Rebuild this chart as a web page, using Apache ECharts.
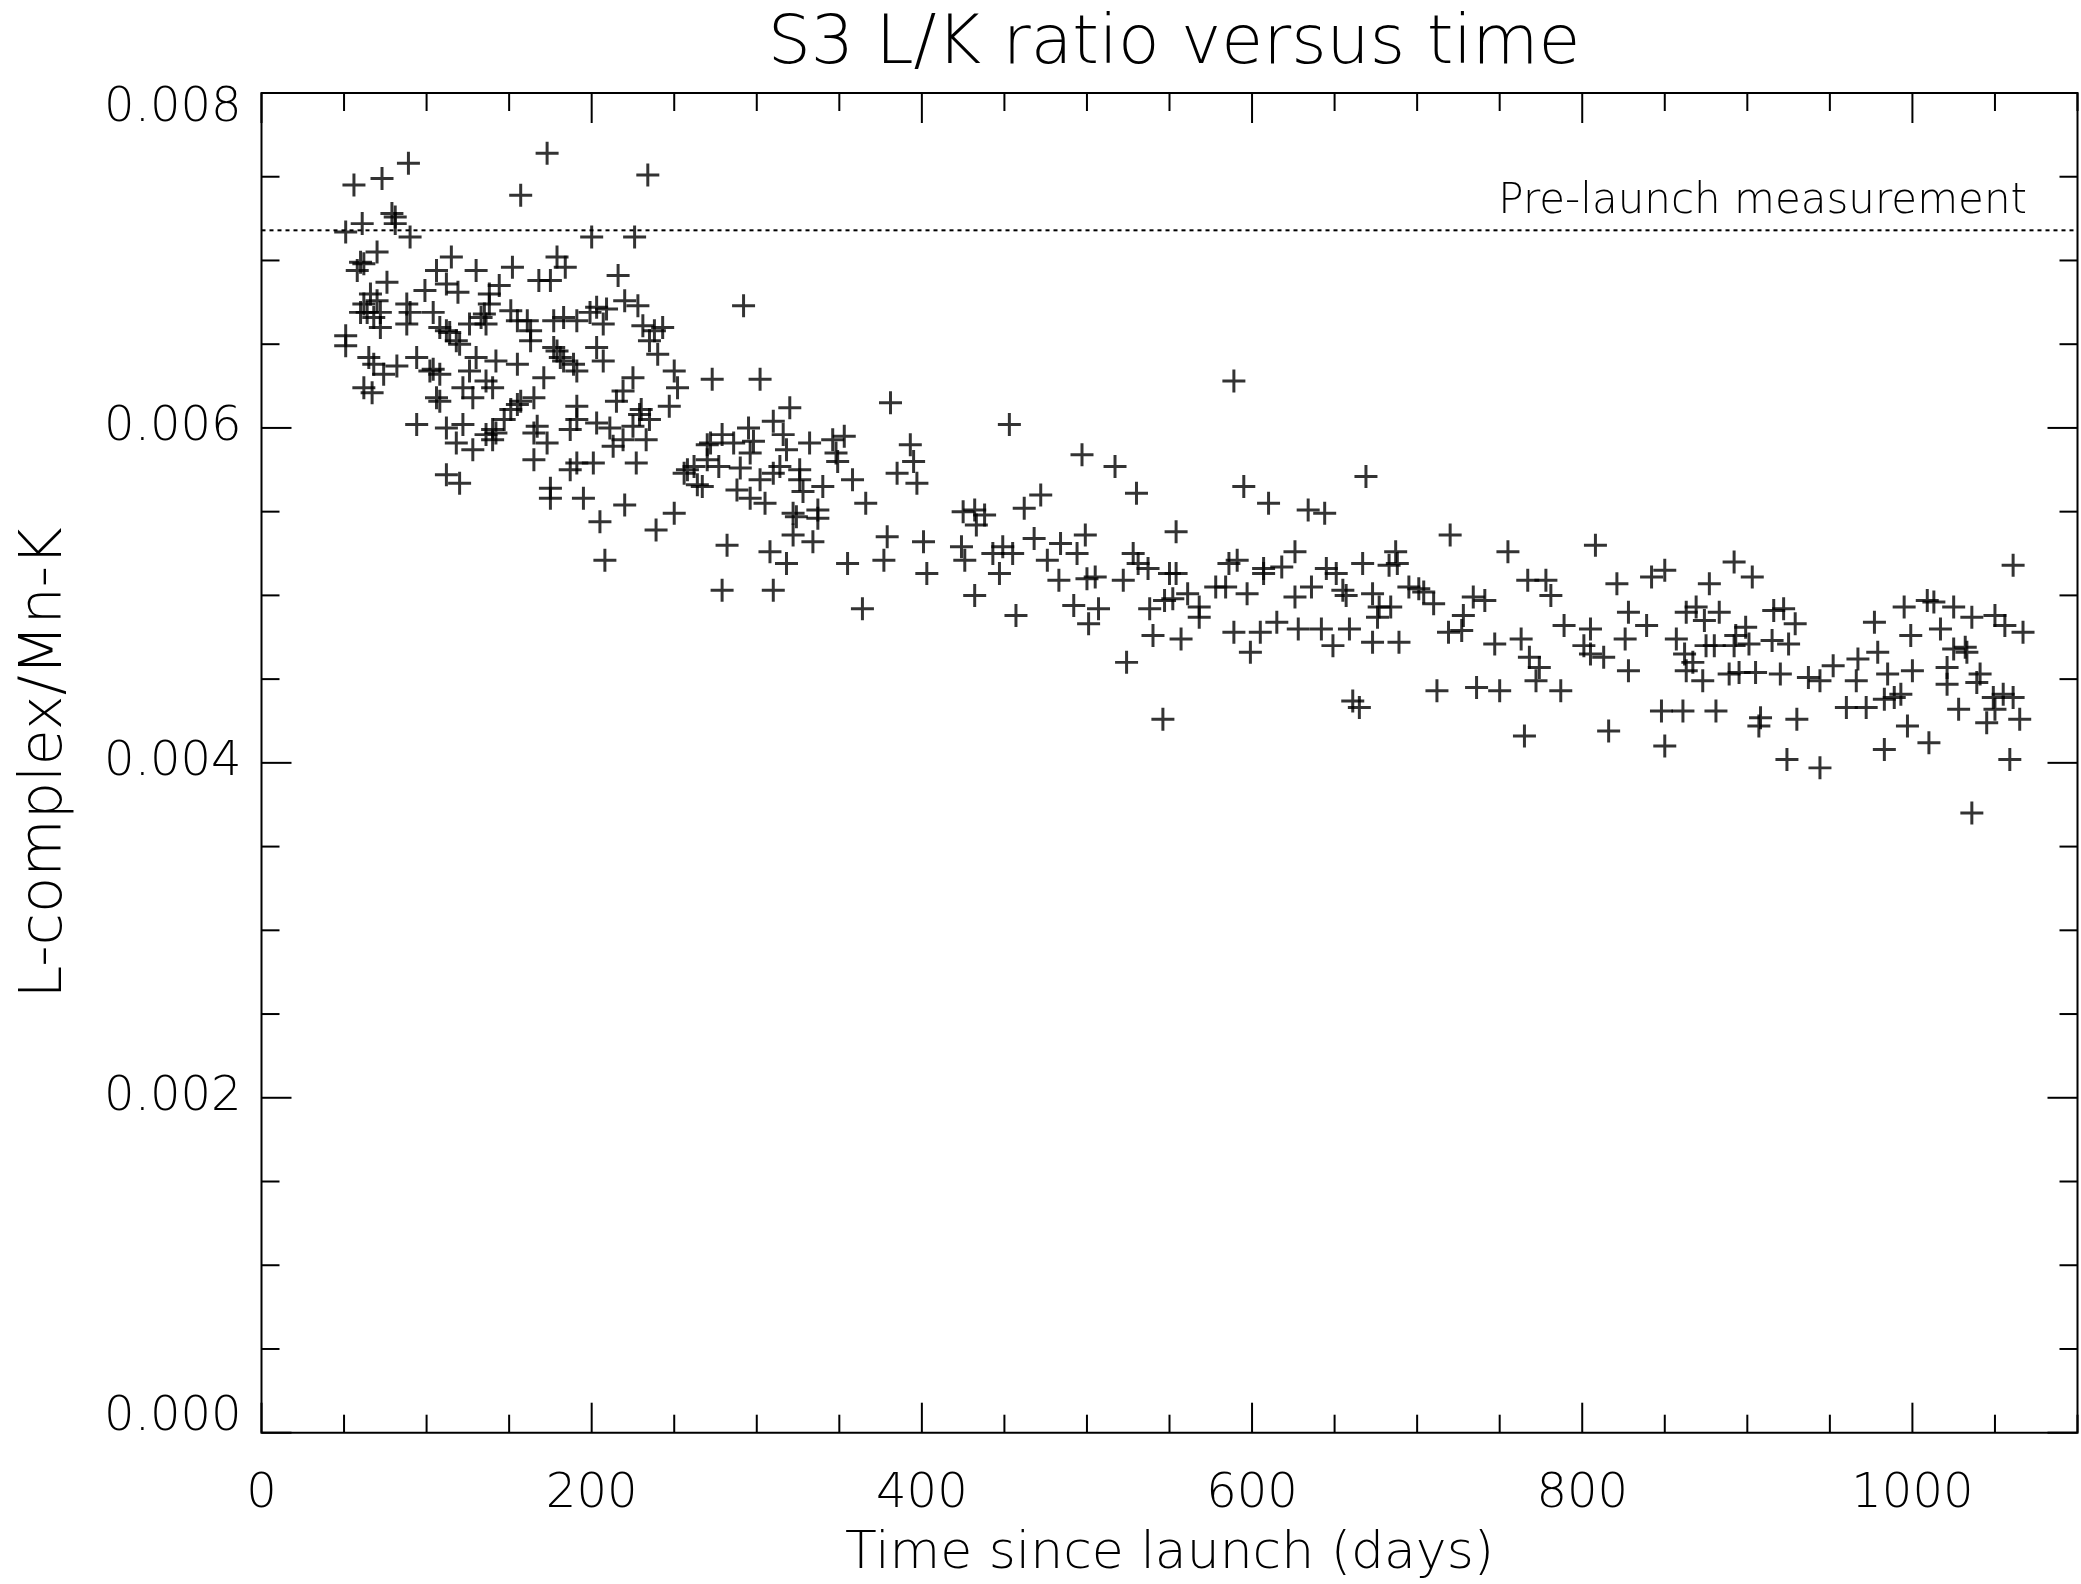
<!DOCTYPE html>
<html>
<head>
<meta charset="utf-8">
<script src="https://cdn.jsdelivr.net/npm/echarts@6/dist/echarts.min.js"></script>
<style>
html,body{margin:0;padding:0;background:#fff;}
#chart{width:2081px;height:1584px;}
</style>
</head>
<body>
<div id="chart"></div>
<script>
// ---- Data: [days since launch, L-complex/Mn-K ratio] ----
const days50to270 = [
[173,0.00764],[89,0.00758],[73,0.00749],[56,0.00745],[234,0.00751],[157,0.00739],[79,0.00728],[81,0.00722],[61,0.00722],[51,0.00717],
[90,0.00714],[200,0.00714],[226,0.00714],[70,0.00705],[115,0.00702],[60,0.00699],[58,0.00694],[130,0.00694],[152,0.00696],[179,0.00702],
[184,0.00696],[106,0.00694],[168,0.00688],[175,0.00688],[216,0.00691],[112,0.00686],[76,0.00687],[99,0.00682],[119,0.00681],[138,0.00680],
[144,0.00685],[66,0.00680],[70,0.00676],[220,0.00676],[228,0.00673],[203,0.00672],[209,0.00671],[138,0.00674],[88,0.00674],[62,0.00674],
[199,0.00669],[60,0.00669],[72,0.00669],[90,0.00669],[104,0.00669],[151,0.00670],[135,0.00668],[183,0.00666],[191,0.00664],[177,0.00664],
[161,0.00664],[155,0.00664],[72,0.00660],[88,0.00662],[108,0.00660],[112,0.00658],[126,0.00662],[136,0.00662],[207,0.00662],[231,0.00661],
[238,0.00658],[243,0.00660],[51,0.00655],[51,0.00649],[118,0.00652],[163,0.00658],[163,0.00652],[177,0.00648],[181,0.00642],[189,0.00638],
[203,0.00648],[207,0.00640],[235,0.00652],[240,0.00644],[65,0.00642],[68,0.00638],[82,0.00637],[74,0.00632],[94,0.00642],[102,0.00634],
[108,0.00632],[130,0.00642],[142,0.00640],[155,0.00638],[126,0.00634],[136,0.00628],[140,0.00624],[122,0.00624],[62,0.00624],[67,0.00621],
[106,0.00618],[128,0.00618],[155,0.00614],[165,0.00618],[171,0.00630],[225,0.00630],[219,0.00622],[250,0.00634],[252,0.00624],[247,0.00613],
[215,0.00616],[191,0.00613],[229,0.00608],[225,0.00601],[235,0.00605],[233,0.00593],[211,0.00600],[219,0.00593],[213,0.00589],[203,0.00603],
[191,0.00605],[187,0.00599],[151,0.00611],[147,0.00605],[140,0.00599],[140,0.00593],[136,0.00596],[167,0.00601],[165,0.00597],[173,0.00591],
[94,0.00602],[112,0.00600],[122,0.00602],[118,0.00591],[128,0.00587],[165,0.00581],[187,0.00575],[191,0.00579],[201,0.00579],[227,0.00579],
[258,0.00575],[262,0.00577],[264,0.00566],[270,0.00590],[112,0.00572],[120,0.00567],[175,0.00564],[175,0.00558],[195,0.00558],[220,0.00554],
[205,0.00544],[250,0.00549],[239,0.00539],[208,0.00521],[81,0.00726],[62,0.00698],[64,0.00669],[68,0.00666],[133,0.00666],[114,0.00657],
[120,0.00650],[104,0.00635],[108,0.00616],[179,0.00646],[183,0.00640],[191,0.00634],[230,0.00611],[142,0.00597],[157,0.00616],[256,0.00573]
];
const days265to495 = [
[292,0.00673],[273,0.00629],[302,0.00629],[320,0.00612],[381,0.00615],[453,0.00602],[310,0.00604],[295,0.00600],[272,0.00591],[279,0.00596],
[286,0.00591],[298,0.00592],[296,0.00585],[270,0.00581],[277,0.00577],[290,0.00576],[316,0.00596],[318,0.00587],[314,0.00577],[310,0.00573],
[332,0.00591],[346,0.00593],[353,0.00595],[348,0.00585],[349,0.00580],[302,0.00569],[288,0.00563],[296,0.00558],[305,0.00555],[326,0.00575],
[326,0.00569],[328,0.00562],[340,0.00565],[358,0.00569],[366,0.00555],[393,0.00590],[395,0.00580],[385,0.00573],[397,0.00567],[322,0.00549],
[324,0.00547],[337,0.00551],[337,0.00546],[322,0.00536],[334,0.00532],[282,0.00530],[308,0.00526],[318,0.00519],[279,0.00503],[310,0.00503],
[355,0.00519],[364,0.00492],[379,0.00535],[377,0.00521],[401,0.00532],[403,0.00513],[425,0.00550],[432,0.00551],[438,0.00548],[433,0.00542],
[462,0.00552],[472,0.00560],[424,0.00529],[426,0.00521],[432,0.00500],[443,0.00525],[449,0.00529],[455,0.00525],[447,0.00513],[468,0.00534],
[476,0.00521],[484,0.00531],[483,0.00509],[457,0.00488],[492,0.00494],[494,0.00525],[267,0.00565]
];
const days485to700 = [
[589,0.00628],[497,0.00584],[517,0.00577],[530,0.00561],[595,0.00565],[610,0.00555],[634,0.00551],[644,0.00549],[669,0.00571],[499,0.00536],
[554,0.00538],[500,0.00510],[505,0.00511],[522,0.00509],[528,0.00525],[531,0.00519],[537,0.00516],[550,0.00513],[554,0.00513],[507,0.00492],
[501,0.00483],[538,0.00492],[547,0.00497],[552,0.00498],[561,0.00501],[568,0.00493],[568,0.00487],[540,0.00476],[557,0.00474],[524,0.00460],
[546,0.00426],[578,0.00505],[584,0.00505],[586,0.00519],[591,0.00521],[597,0.00501],[607,0.00516],[607,0.00513],[618,0.00517],[626,0.00526],
[626,0.00499],[636,0.00505],[589,0.00478],[605,0.00478],[599,0.00466],[615,0.00484],[628,0.00480],[642,0.00480],[645,0.00516],[651,0.00513],
[655,0.00503],[657,0.00500],[667,0.00519],[673,0.00501],[677,0.00493],[676,0.00487],[684,0.00493],[687,0.00526],[688,0.00519],[683,0.00518],
[695,0.00505],[701,0.00504],[659,0.00480],[649,0.00470],[673,0.00472],[689,0.00472],[661,0.00437],[665,0.00433]
];
const days700to895 = [
[720,0.00536],[755,0.00526],[808,0.00530],[710,0.00495],[704,0.00502],[734,0.00499],[741,0.00497],[728,0.00488],[719,0.00478],[727,0.00479],
[747,0.00471],[767,0.00509],[778,0.00509],[781,0.00500],[763,0.00474],[768,0.00463],[774,0.00457],[772,0.00449],[712,0.00443],[736,0.00445],
[750,0.00443],[787,0.00443],[765,0.00416],[789,0.00482],[805,0.00480],[801,0.00470],[805,0.00465],[813,0.00463],[821,0.00507],[816,0.00419],
[828,0.00490],[839,0.00482],[826,0.00474],[828,0.00455],[842,0.00511],[850,0.00515],[877,0.00507],[892,0.00520],[857,0.00474],[863,0.00490],
[869,0.00493],[874,0.00485],[883,0.00490],[862,0.00465],[867,0.00460],[863,0.00455],[875,0.00470],[880,0.00470],[892,0.00470],[873,0.00449],
[889,0.00453],[848,0.00431],[861,0.00431],[881,0.00431],[850,0.00410]
];
const days895to1070 = [
[903,0.00511],[899,0.00481],[893,0.00476],[901,0.00471],[916,0.00491],[922,0.00492],[929,0.00483],[915,0.00473],[925,0.00471],[895,0.00454],
[905,0.00454],[920,0.00453],[937,0.00451],[944,0.00449],[952,0.00458],[908,0.00427],[907,0.00422],[930,0.00426],[924,0.00402],[944,0.00397],
[966,0.00449],[967,0.00462],[977,0.00484],[979,0.00466],[985,0.00453],[960,0.00433],[972,0.00433],[983,0.00438],[989,0.00439],[993,0.00441],
[1000,0.00455],[999,0.00476],[995,0.00493],[1009,0.00497],[1013,0.00496],[1025,0.00493],[1036,0.00487],[1050,0.00488],[1056,0.00482],[1067,0.00478],
[1017,0.00480],[1025,0.00468],[1032,0.00469],[1033,0.00466],[1021,0.00457],[1021,0.00447],[1041,0.00453],[1039,0.00448],[1049,0.00439],[1055,0.00441],
[1061,0.00439],[1050,0.00432],[1045,0.00424],[1065,0.00426],[1028,0.00432],[997,0.00422],[1010,0.00412],[983,0.00408],[1059,0.00402],[1036,0.00370],
[1061,0.00518]
];
const preLaunchRatio = 0.00718;
const preLaunchText = 'Pre-launch measurement';
const xExtent = [0, 1100];
const yExtent = [0, 0.008];
const xMajorStep = 200, xMinorStep = 50;
const yMajorStep = 0.002, yMinorStep = 0.0005;
const yTickDecimals = 3;

// ---- Chart ----
const FONT = 'DejaVu Sans';
const FW = 200;
const MAJOR_LEN = 30, MINOR_LEN = 18;
const plusPath = 'path://M8.7,0h2.6v20h-2.6z M0,8.7h20v2.6h-20z';
const allPoints = [].concat(days50to270, days265to495, days485to700, days700to895, days895to1070);

// tick positions (drawn through the axes' scales)
const xTickData = [];
for (let i = 0; i * xMinorStep <= xExtent[1]; i++) {
  xTickData.push([i * xMinorStep, yExtent[0], (i * xMinorStep) % xMajorStep === 0 ? 1 : 0]);
}
const yTickData = [];
const yPerMajor = Math.round(yMajorStep / yMinorStep);
for (let i = 0; i * yMinorStep <= yExtent[1] + 1e-12; i++) {
  yTickData.push([xExtent[0], +(i * yMinorStep).toFixed(6), i % yPerMajor === 0 ? 1 : 0]);
}
const tickStyle = {stroke: '#000', lineWidth: 2};

function renderXTick(params, api) {
  const v = api.value(0);
  const len = api.value(2) ? MAJOR_LEN : MINOR_LEN;
  const b = api.coord([v, yExtent[0]]);
  const t = api.coord([v, yExtent[1]]);
  return {type: 'group', children: [
    {type: 'line', shape: {x1: b[0], y1: b[1], x2: b[0], y2: b[1] - len}, style: tickStyle},
    {type: 'line', shape: {x1: t[0], y1: t[1], x2: t[0], y2: t[1] + len}, style: tickStyle}
  ]};
}
function renderYTick(params, api) {
  const v = api.value(1);
  const len = api.value(2) ? MAJOR_LEN : MINOR_LEN;
  const l = api.coord([xExtent[0], v]);
  const r = api.coord([xExtent[1], v]);
  return {type: 'group', children: [
    {type: 'line', shape: {x1: l[0], y1: l[1], x2: l[0] + len, y2: l[1]}, style: tickStyle},
    {type: 'line', shape: {x1: r[0], y1: r[1], x2: r[0] - len, y2: r[1]}, style: tickStyle}
  ]};
}
const labelFont = {fontSize: 48, color: '#000', fontFamily: FONT, fontWeight: FW};

const chart = echarts.init(document.getElementById('chart'), null, {renderer: 'canvas'});
chart.setOption({
  backgroundColor: '#fff',
  animation: false,
  textStyle: {fontFamily: FONT, color: '#000'},
  title: [{
    text: 'S3 L/K ratio versus time', left: 1169, top: 6, textAlign: 'center',
    textStyle: {fontSize: 68, fontWeight: FW, color: '#000', fontFamily: FONT}
  }, {
    text: preLaunchText, right: 54, top: 181, padding: 0,
    textStyle: {fontSize: 42, fontWeight: FW, color: '#000', fontFamily: FONT}
  }],
  grid: {left: 261.5, right: 3.5, top: 93, bottom: 151.3, containLabel: false, outerBoundsMode: 'none',
    show: true, borderColor: '#000', borderWidth: 2, backgroundColor: 'transparent'},
  xAxis: {
    type: 'value', position: 'bottom', min: xExtent[0], max: xExtent[1], interval: xMajorStep,
    axisLine: {show: false, onZero: false}, splitLine: {show: false}, axisTick: {show: false},
    axisLabel: Object.assign({show: true, showMaxLabel: false, margin: 38,
      formatter: function (v) { return String(v); }}, labelFont),
    name: 'Time since launch (days)', nameLocation: 'middle', nameGap: 96,
    nameTextStyle: {fontSize: 52, color: '#000', fontFamily: FONT, fontWeight: FW}
  },
  yAxis: {
    type: 'value', position: 'left', min: yExtent[0], max: yExtent[1], interval: yMajorStep,
    axisLine: {show: false, onZero: false}, splitLine: {show: false}, axisTick: {show: false},
    axisLabel: Object.assign({show: true, margin: 20,
      formatter: function (v) {
        const s = v.toFixed(yTickDecimals);
        if (Math.abs(v - yExtent[0]) < 1e-12) return '{lo|' + s + '}';
        if (Math.abs(v - yExtent[1]) < 1e-12) return '{hi|' + s + '}';
        return s;
      },
      rich: {
        lo: Object.assign({padding: [0, 0, 31, 0]}, labelFont),
        hi: Object.assign({padding: [31, 0, 0, 0]}, labelFont)
      }}, labelFont),
    name: 'L-complex/Mn-K', nameLocation: 'middle', nameGap: 186,
    nameTextStyle: {fontSize: 59, color: '#000', fontFamily: FONT, fontWeight: FW}
  },
  series: [{
    type: 'custom', name: 'xTicks', silent: true, clip: false,
    data: xTickData, encode: {x: 0, y: 1}, renderItem: renderXTick, z: 3
  }, {
    type: 'custom', name: 'yTicks', silent: true, clip: false,
    data: yTickData, encode: {x: 0, y: 1}, renderItem: renderYTick, z: 3
  }, {
    type: 'line', silent: true,
    data: [[xExtent[0], preLaunchRatio], [xExtent[1], preLaunchRatio]],
    symbol: 'none', showSymbol: false,
    lineStyle: {color: '#000', type: [4, 4], width: 2},
    z: 1
  }, {
    type: 'scatter',
    data: allPoints,
    symbol: plusPath, symbolSize: 23,
    itemStyle: {color: '#000'},
    z: 2
  }]
});
</script>
</body>
</html>
